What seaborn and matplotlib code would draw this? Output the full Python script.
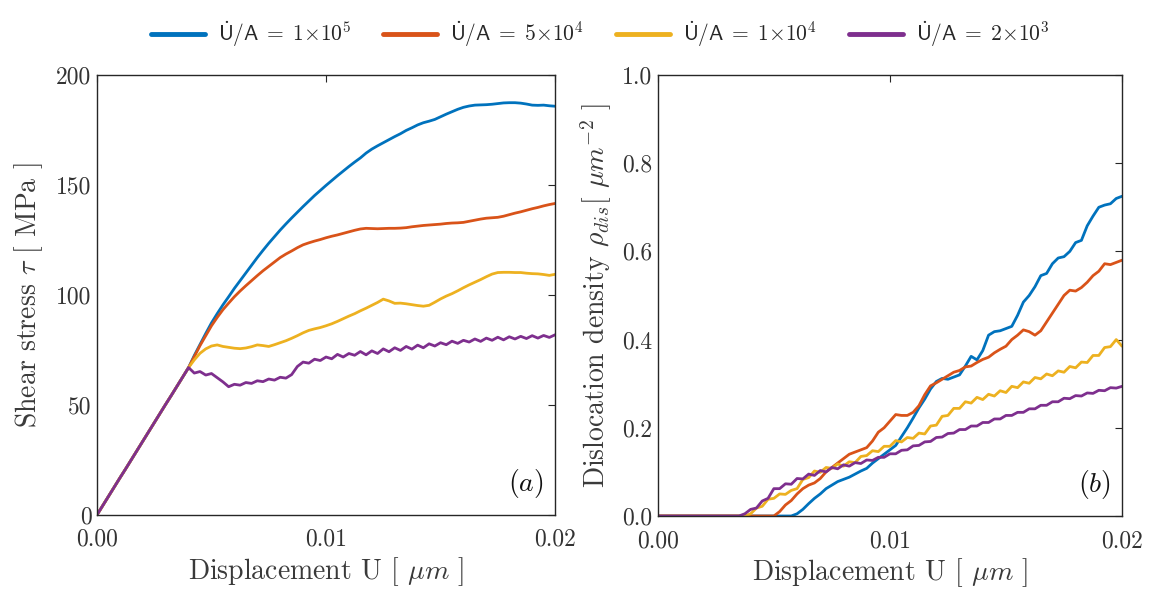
import numpy as np
import pandas as pd
import matplotlib
matplotlib.use("Agg")
import matplotlib.pyplot as plt
import seaborn as sns

# Displacement grid shared by every curve (um)
disp = np.linspace(0.0, 0.02, 81)

rates = [r"$\dot{\mathsf{U}}\mathsf{/A}\;{=}\;\mathsf{1}{\times}\mathsf{10}^{\mathsf{5}}$",
         r"$\dot{\mathsf{U}}\mathsf{/A}\;{=}\;\mathsf{5}{\times}\mathsf{10}^{\mathsf{4}}$",
         r"$\dot{\mathsf{U}}\mathsf{/A}\;{=}\;\mathsf{1}{\times}\mathsf{10}^{\mathsf{4}}$",
         r"$\dot{\mathsf{U}}\mathsf{/A}\;{=}\;\mathsf{2}{\times}\mathsf{10}^{\mathsf{3}}$"]
colors = ["#0072BD", "#D95319", "#EDB120", "#7E2F8E"]

# Shear stress (MPa): common elastic loading, then one branch per rate
elastic = [0, 4.2, 8.4, 12.6, 16.8, 20.9, 25.1, 29.3, 33.5, 37.7,
           41.9, 46.1, 50.3, 54.4, 58.6, 62.8]
tau_1e5 = [67.0, 72.5, 77.5, 82.5, 87.3, 91.5, 95.5, 99.2, 103.0, 106.5,
           110.0, 113.5, 117.0, 120.3, 123.5, 126.5, 129.5, 132.3, 135.0, 137.6,
           140.2, 142.7, 145.2, 147.5, 149.8, 152.0, 154.2, 156.3, 158.4, 160.4,
           162.3, 164.5, 166.3, 167.8, 169.2, 170.6, 172.0, 173.3, 174.8, 176.0,
           177.3, 178.3, 179.0, 179.8, 181.0, 182.2, 183.3, 184.4, 185.3, 185.9,
           186.3, 186.4, 186.5, 186.7, 187.0, 187.3, 187.4, 187.4, 187.2, 186.8,
           186.3, 186.2, 186.3, 186.0, 185.8]
tau_5e4 = [67.0, 72.0, 77.0, 81.5, 86.0, 89.8, 93.3, 96.3, 99.2, 101.8,
           104.2, 106.5, 108.8, 111.0, 113.0, 115.0, 117.0, 118.6, 120.0, 121.5,
           122.8, 123.7, 124.5, 125.2, 126.0, 126.7, 127.3, 128.0, 128.7, 129.4,
           130.0, 130.3, 130.2, 130.1, 130.2, 130.3, 130.3, 130.4, 130.6, 131.0,
           131.3, 131.6, 131.8, 132.0, 132.2, 132.5, 132.7, 132.8, 133.0, 133.5,
           134.0, 134.5, 134.9, 135.1, 135.3, 135.8, 136.5, 137.2, 137.8, 138.5,
           139.2, 139.8, 140.5, 141.1, 141.6]
tau_1e4 = [67.0, 70.5, 73.5, 75.5, 76.8, 77.3, 76.6, 76.2, 75.8, 75.6,
           75.9, 76.5, 77.3, 77.0, 76.6, 77.4, 78.3, 79.2, 80.3, 81.5,
           82.8, 83.9, 84.6, 85.2, 86.0, 86.9, 88.0, 89.2, 90.4, 91.5,
           92.8, 94.0, 95.3, 96.6, 98.1, 97.3, 96.2, 96.3, 96.0, 95.6,
           95.2, 94.9, 95.3, 96.7, 98.2, 99.5, 100.6, 101.9, 103.3, 104.6,
           105.8, 107.0, 108.3, 109.5, 110.2, 110.3, 110.3, 110.2, 110.2, 109.9,
           109.7, 109.6, 109.3, 108.9, 109.4]
tau_2e3 = [67.0, 64.5, 65.2, 63.6, 64.3, 62.4, 60.5, 58.3, 59.4, 59.0,
           60.2, 59.8, 61.0, 60.6, 61.8, 61.3, 62.6, 62.2, 63.8, 67.5,
           69.5, 69.0, 70.8, 70.2, 71.8, 71.0, 73.0, 71.8, 73.4, 72.6,
           74.3, 72.8, 74.6, 73.4, 75.5, 74.2, 76.0, 74.8, 76.6, 75.4,
           77.2, 76.0, 77.8, 76.8, 78.3, 77.4, 79.0, 78.0, 79.4, 78.6,
           80.0, 78.9, 80.4, 79.4, 80.8, 79.6, 81.0, 80.0, 81.2, 80.2,
           81.5, 80.4, 81.6, 80.7, 81.9]

# Dislocation density (um^-2): values after the curve leaves zero
rho_1e5 = [0.005, 0.015, 0.028, 0.040, 0.050, 0.062, 0.070, 0.078, 0.083, 0.088,
           0.095, 0.102, 0.108, 0.120, 0.130, 0.140, 0.150, 0.160, 0.180, 0.200,
           0.222, 0.245, 0.265, 0.288, 0.305, 0.312, 0.310, 0.315, 0.320, 0.340,
           0.362, 0.354, 0.375, 0.410, 0.418, 0.420, 0.425, 0.430, 0.455, 0.485,
           0.500, 0.520, 0.545, 0.550, 0.572, 0.585, 0.588, 0.600, 0.620, 0.625,
           0.658, 0.680, 0.700, 0.705, 0.708, 0.720, 0.725]
rho_5e4 = [0.010, 0.025, 0.035, 0.050, 0.062, 0.070, 0.075, 0.085, 0.100, 0.110,
           0.120, 0.130, 0.140, 0.145, 0.150, 0.155, 0.170, 0.190, 0.200, 0.215,
           0.230, 0.228, 0.228, 0.235, 0.250, 0.275, 0.295, 0.302, 0.310, 0.318,
           0.326, 0.330, 0.338, 0.340, 0.348, 0.355, 0.360, 0.370, 0.378, 0.385,
           0.400, 0.410, 0.422, 0.418, 0.410, 0.420, 0.440, 0.460, 0.480, 0.500,
           0.512, 0.510, 0.518, 0.530, 0.545, 0.555, 0.572, 0.570, 0.575, 0.580]
rho_1e4 = [0.005, 0.018, 0.022, 0.038, 0.040, 0.050, 0.049, 0.058, 0.062, 0.083,
           0.087, 0.102, 0.099, 0.110, 0.108, 0.118, 0.113, 0.123, 0.121, 0.135,
           0.137, 0.148, 0.146, 0.158, 0.158, 0.171, 0.168, 0.178, 0.176, 0.188,
           0.186, 0.204, 0.206, 0.226, 0.228, 0.244, 0.244, 0.259, 0.256, 0.269,
           0.264, 0.276, 0.272, 0.284, 0.280, 0.294, 0.291, 0.304, 0.301, 0.314,
           0.311, 0.322, 0.318, 0.329, 0.326, 0.339, 0.336, 0.349, 0.348, 0.364,
           0.364, 0.382, 0.384, 0.400, 0.385]
rho_2e3 = [0.005, 0.015, 0.018, 0.034, 0.040, 0.062, 0.062, 0.073, 0.072, 0.085,
           0.084, 0.095, 0.092, 0.103, 0.100, 0.110, 0.107, 0.116, 0.113, 0.121,
           0.119, 0.127, 0.126, 0.133, 0.133, 0.141, 0.141, 0.149, 0.150, 0.159,
           0.160, 0.168, 0.169, 0.178, 0.179, 0.187, 0.188, 0.196, 0.196, 0.204,
           0.204, 0.212, 0.212, 0.220, 0.220, 0.228, 0.228, 0.235, 0.235, 0.243,
           0.243, 0.251, 0.251, 0.259, 0.259, 0.267, 0.266, 0.273, 0.272, 0.279,
           0.278, 0.285, 0.284, 0.291, 0.290, 0.294]

n = len(disp)
tau = [elastic + s for s in (tau_1e5, tau_5e4, tau_1e4, tau_2e3)]
rho = [[0.0] * (n - len(s)) + s for s in (rho_1e5, rho_5e4, rho_1e4, rho_2e3)]
for s in tau + rho:
    assert len(s) == n

frames = []
for name, t, r in zip(rates, tau, rho):
    frames.append(pd.DataFrame({"U": disp, "tau": t, "rho": r, "rate": name}))
df = pd.concat(frames, ignore_index=True)

sns.set_theme(style="white")
plt.rcParams["font.family"] = ["cmr10"]
plt.rcParams["mathtext.fontset"] = "cm"
plt.rcParams["axes.formatter.use_mathtext"] = True

fig = plt.figure(figsize=(11.54, 5.97), dpi=100)
ax1 = fig.add_axes([0.084, 0.1374, 0.397, 0.7370])
ax2 = fig.add_axes([0.570, 0.1357, 0.4023, 0.7387])

pal = dict(zip(rates, colors))
sns.lineplot(data=df, x="U", y="tau", hue="rate", palette=pal, ax=ax1,
             linewidth=2.0, legend=False, estimator=None, sort=False)
sns.lineplot(data=df, x="U", y="rho", hue="rate", palette=pal, ax=ax2,
             linewidth=2.0, legend=False, estimator=None, sort=False)

frame_col = "#262626"
tick_size = 17
for ax in (ax1, ax2):
    ax.set_xlim(0, 0.02)
    ax.set_xticks([0.0, 0.01, 0.02])
    ax.set_xticklabels(["0.00", "0.01", "0.02"])
    ax.tick_params(direction="in", length=5, width=0.8, colors=frame_col,
                   labelsize=tick_size, top=True, right=True,
                   labelcolor="#333333", pad=4)
    ax.tick_params(axis="x", pad=10)
    for sp in ax.spines.values():
        sp.set_color(frame_col)
        sp.set_linewidth(1.0)
    ax.set_xlabel(r"Displacement U [ $\mu m$ ]", fontsize=20, color="#3a3a3a",
                  labelpad=3)

ax1.set_ylim(0, 200)
ax1.set_yticks([0, 50, 100, 150, 200])
ax1.set_yticklabels(["0", "50", "100", "150", "200"])
ax1.set_ylabel(r"Shear stress $\tau$ [ MPa ]", fontsize=20, color="#3a3a3a",
               labelpad=8)

ax2.set_ylim(0, 1.0)
ax2.set_yticks([0.0, 0.2, 0.4, 0.6, 0.8, 1.0])
ax2.set_yticklabels(["0.0", "0.2", "0.4", "0.6", "0.8", "1.0"])
ax2.set_ylabel(r"Dislocation density $\rho_{dis}$[ $\mu m^{-2}$ ]",
               fontsize=20, color="#3a3a3a", labelpad=6)

ax1.text(0.975, 0.035, r"$(a)$", transform=ax1.transAxes, ha="right",
         va="bottom", fontsize=20, color="#111111")
ax2.text(0.975, 0.035, r"$(b)$", transform=ax2.transAxes, ha="right",
         va="bottom", fontsize=20, color="#111111")

handles = [matplotlib.lines.Line2D([], [], color=c, linewidth=3.5) for c in colors]
fig.legend(handles, rates, loc="upper center", bbox_to_anchor=(0.52, 1.0),
           ncol=4, frameon=False, handlelength=2.5, handletextpad=0.6,
           columnspacing=1.5, prop={"size": 15.5})

fig.savefig("out.png", dpi=100, facecolor="white")
